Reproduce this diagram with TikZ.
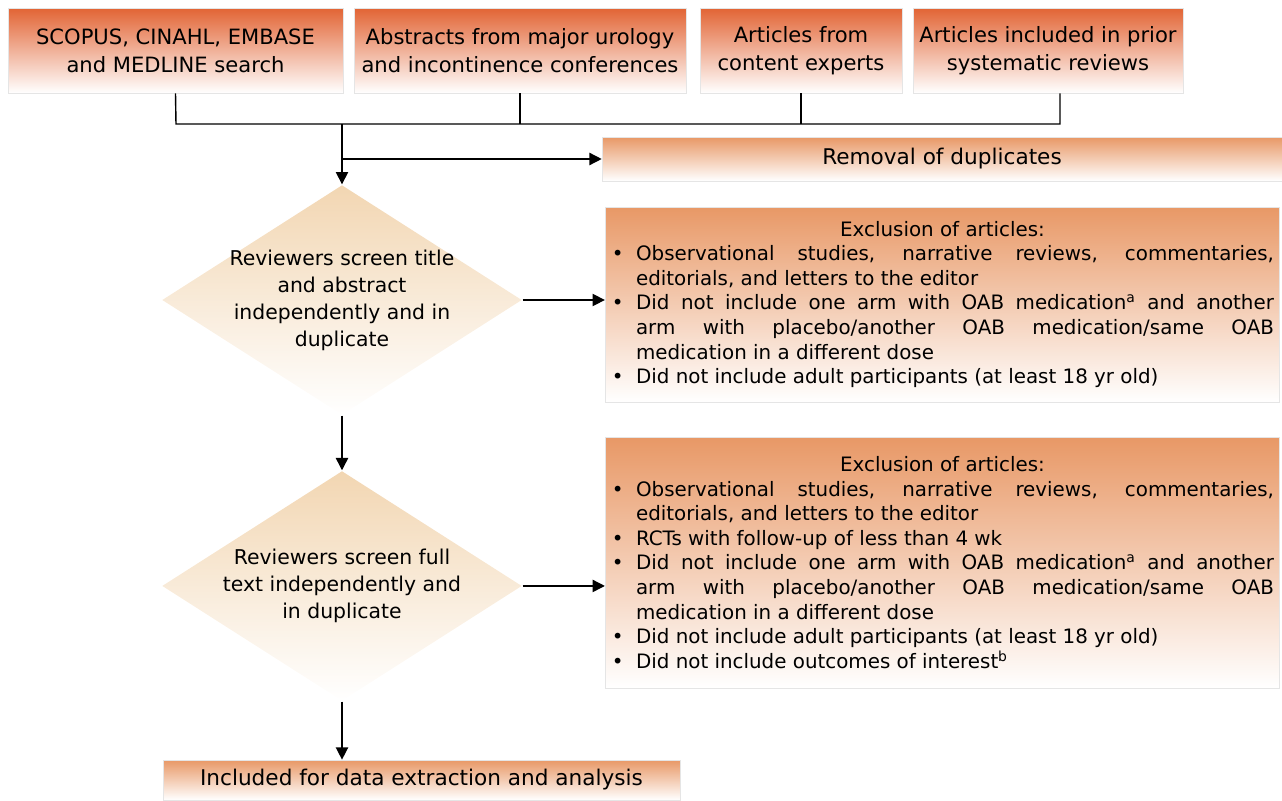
\documentclass[tikz,border=0pt]{standalone}
\usepackage{fontspec}
\setmainfont{DejaVu Sans}
\usepackage{enumitem}
\usetikzlibrary{shapes.geometric,arrows.meta,positioning}
\definecolor{srctop}{RGB}{226,100,52}
\definecolor{boxtop}{RGB}{232,152,102}
\definecolor{dectop}{RGB}{242,214,178}
\hyphenpenalty=10000

\begin{document}
\begin{tikzpicture}[x=0.02cm,y=-0.02cm,>={Triangle[width=7pt,length=7pt]},line width=0.8pt,
  src/.style={draw=black!10,line width=0.4pt,top color=srctop,bottom color=white,minimum height=1.7cm,align=center,font=\fontsize{12}{16}\selectfont},
  box/.style={draw=black!10,line width=0.4pt,top color=boxtop,bottom color=white,font=\fontsize{12.3}{15}\selectfont},
  excl/.style={box,text width=13.26cm,align=justify,font=\fontsize{11.3}{14}\selectfont},
  decision/.style={diamond,shape aspect=1.565,top color=dectop,bottom color=white,minimum width=7.2cm,minimum height=4.6cm,inner sep=-12pt,align=center,font=\fontsize{11.6}{15.4}\selectfont}]
\useasboundingbox (0,0) rectangle (1282,801);

\node[src,minimum width=6.7cm]  (s1) at (175.5,50.5) {SCOPUS, CINAHL, EMBASE\\and MEDLINE search};
\node[src,minimum width=6.64cm] (s2) at (520,50.5) {Abstracts from major urology\\and incontinence conferences};
\node[src,minimum width=4.04cm] (s3) at (801,50.5) {Articles from\\content experts};
\node[src,minimum width=5.4cm]  (s4) at (1048,50.5) {Articles included in prior\\systematic reviews};

\node[box,minimum width=13.6cm,minimum height=0.88cm] (dup) at (942,159) {Removal of duplicates};
\node[decision] (d1) at (342,300) {Reviewers screen title\\and abstract\\independently and in\\duplicate};
\node[decision] (d2) [on grid,below=5.72cm of d1] {Reviewers screen full\\text independently and\\in duplicate};
\node[box,minimum width=10.34cm,minimum height=0.8cm] (fin) at (421.5,780) {Included for data extraction and analysis};

\node[excl,minimum height=3.9cm] (ex1) at (942.5,304.5) {{\centering Exclusion of articles:\par}
  \begin{itemize}[nosep,leftmargin=0.5cm,labelsep=0.25cm]
  \item Observational studies, narrative reviews, commentaries, editorials, and letters to the editor
  \item Did not include one arm with OAB medication\textsuperscript{a} and another\linebreak arm with placebo/another OAB medication/same OAB\linebreak medication in a different dose
  \item Did not include adult participants (at least 18 yr old)
  \end{itemize}};
\node[excl,minimum height=5.02cm] (ex2) at (942.5,562.5) {{\centering Exclusion of articles:\par}
  \begin{itemize}[nosep,leftmargin=0.5cm,labelsep=0.25cm]
  \item Observational studies, narrative reviews, commentaries, editorials, and letters to the editor
  \item RCTs with follow-up of less than 4 wk
  \item Did not include one arm with OAB medication\textsuperscript{a} and another\linebreak arm with placebo/another OAB medication/same OAB\linebreak medication in a different dose
  \item Did not include adult participants (at least 18 yr old)
  \item Did not include outcomes of interest\textsuperscript{b}
  \end{itemize}};

\coordinate (busl) at (176,124);
\coordinate (busr) at (1060,124);
\coordinate (bus) at (342,124);
\coordinate (split) at (342,159);
\draw (s1.south) -- (busl) -- (busr) -- (busr |- s4.south);
\draw (s2.south) -- (s2.south |- busl);
\draw (s3.south) -- (s3.south |- busl);
\draw[->] (bus) -- (d1.north);
\draw[->] (split) -- (split -| dup.west);
\draw[->] (d1.east) -- (d1.east -| ex1.west);
\draw[->] (d1.south) -- (d2.north);
\draw[->] (d2.east) -- (d2.east -| ex2.west);
\draw[->] (d2.south) -- (d2.south |- fin.north);
\end{tikzpicture}
\end{document}
